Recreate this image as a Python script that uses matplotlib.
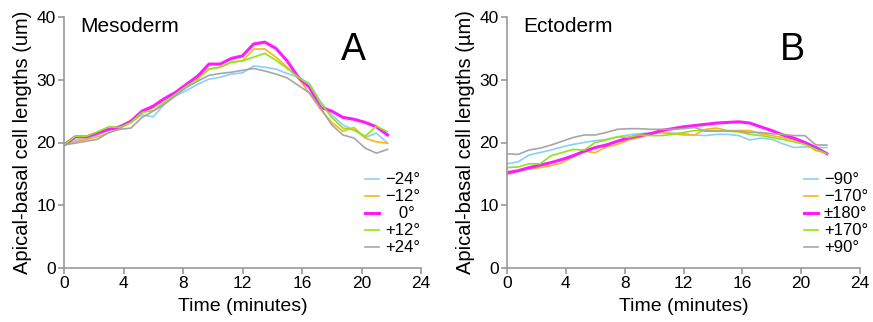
import matplotlib.pyplot as plt
import numpy as np

plt.rcParams['font.family'] = ['Liberation Sans', 'DejaVu Sans']

# time points every 45 s
time_min = np.arange(30) * 0.75

# Mesoderm (panel A)
meso_m24 = [19.6, 20.4, 20.5, 21.2, 22.0, 22.3, 23.2, 24.4, 24.1, 26.1, 27.4, 28.3, 29.3, 30.1, 30.4,
            30.9, 31.1, 32.2, 32.0, 31.7, 31.0, 30.4, 29.4, 26.5, 24.4, 22.8, 22.0, 20.8, 21.5, 19.9]
meso_m12 = [19.6, 20.1, 20.5, 20.9, 21.5, 22.3, 23.2, 24.7, 25.6, 26.8, 27.9, 29.1, 30.4, 31.7, 32.0,
            32.8, 33.0, 34.9, 34.9, 33.6, 32.0, 30.3, 27.8, 25.3, 23.2, 21.8, 22.4, 20.7, 20.1, 19.9]
meso_0 = [19.6, 20.9, 20.9, 21.5, 22.1, 22.5, 23.4, 25.0, 25.8, 27.0, 28.0, 29.3, 30.6, 32.5, 32.5,
          33.4, 33.8, 35.7, 36.0, 35.0, 33.0, 30.4, 28.8, 25.6, 25.0, 24.0, 23.7, 23.2, 22.5, 21.2]
meso_p12 = [19.6, 21.0, 21.0, 21.7, 22.5, 22.4, 23.2, 24.8, 25.1, 26.4, 27.7, 29.0, 30.1, 31.7, 32.0,
            32.8, 33.0, 33.6, 34.2, 33.1, 31.8, 30.4, 29.2, 26.3, 24.0, 22.3, 22.0, 21.0, 22.6, 21.7]
meso_p24 = [19.6, 19.9, 20.2, 20.5, 21.6, 22.1, 22.3, 24.0, 25.0, 26.1, 27.5, 28.8, 29.8, 30.7, 31.0,
            31.2, 31.5, 31.8, 31.4, 30.9, 30.3, 29.1, 27.9, 25.5, 22.8, 21.2, 20.7, 19.1, 18.3, 18.9]

# Ectoderm (panel B)
ecto_m90 = [16.6, 16.9, 18.0, 18.4, 18.8, 19.3, 19.7, 20.0, 20.3, 20.5, 20.9, 21.2, 21.4, 21.5, 21.6,
            21.5, 21.4, 21.2, 21.1, 21.3, 21.3, 21.1, 20.4, 20.7, 20.5, 19.8, 19.2, 19.3, 19.2, 19.2]
ecto_m170 = [14.9, 15.4, 15.8, 16.0, 16.3, 16.8, 17.7, 18.6, 18.4, 19.3, 19.7, 20.4, 20.8, 21.3, 21.6,
             21.4, 21.2, 21.2, 22.1, 22.3, 21.9, 21.9, 21.9, 21.4, 21.1, 20.8, 20.4, 19.8, 18.7, 18.4]
ecto_180 = [15.2, 15.5, 16.0, 16.4, 16.8, 17.3, 17.9, 18.6, 19.2, 19.6, 20.2, 20.7, 21.1, 21.4, 21.9,
            22.2, 22.5, 22.7, 22.9, 23.1, 23.2, 23.3, 23.1, 22.5, 21.9, 21.2, 20.7, 20.0, 19.2, 18.2]
ecto_p170 = [16.0, 16.1, 16.6, 16.6, 17.9, 18.4, 18.9, 18.8, 20.0, 20.4, 20.9, 20.8, 21.2, 21.1, 21.1,
             21.3, 21.6, 21.9, 21.9, 21.9, 21.8, 21.7, 21.3, 21.1, 20.8, 20.5, 20.1, 19.7, 18.9, 18.2]
ecto_p90 = [18.2, 18.1, 18.8, 19.1, 19.6, 20.2, 20.8, 21.2, 21.2, 21.6, 22.1, 22.2, 22.2, 22.1, 22.1,
            22.1, 22.2, 22.4, 21.8, 21.8, 21.8, 21.8, 21.6, 21.6, 21.4, 21.3, 21.1, 21.1, 19.6, 19.6]

meso_labels = ['\u221224°', '\u221212°', '   0°', '+12°', '+24°']
ecto_labels = ['\u221290°', '\u2212170°', '\u00b1180°', '+170°', '+90°']

colors = ['#8ccff7', '#ffb31a', '#ff1aff', '#8ee619', '#a6a6a6']
widths = [1.2, 1.2, 2.2, 1.2, 1.2]


def draw_panel(ax, series, labels, title, letter, ylabel, leg_x):
    for vals, lab, c, lw in zip(series, labels, colors, widths):
        ax.plot(time_min, vals, color=c, lw=lw, label=lab)
    ax.set_xlim(0, 24)
    ax.set_ylim(0, 40)
    ax.set_xticks(range(0, 25, 4))
    ax.set_yticks(range(0, 41, 10))
    for s in ['top', 'right']:
        ax.spines[s].set_visible(False)
    for s in ['left', 'bottom']:
        ax.spines[s].set_color('#999999')
        ax.spines[s].set_linewidth(1.2)
    ax.tick_params(colors='#999999', labelcolor='black', labelsize=12.5, length=4, width=1.2, pad=2)
    ax.set_xlabel('Time (minutes)', fontsize=14, labelpad=5)
    ax.set_ylabel(ylabel, fontsize=14.5, labelpad=3)
    ax.text(0.045, 0.94, title, transform=ax.transAxes, fontsize=15, va='baseline', ha='left')
    ax.text(0.81, 0.83, letter, transform=ax.transAxes, fontsize=27, va='baseline', ha='center')
    ax.legend(loc='lower left', bbox_to_anchor=(leg_x, 0.05), frameon=False, fontsize=12,
              handlelength=0.85, handletextpad=0.35, labelspacing=0.12, borderaxespad=0.0,
              borderpad=0.0)


fig = plt.figure(figsize=(8.73, 3.22), dpi=100)
ax1 = fig.add_axes([64 / 873, 54 / 322, 357 / 873, 251 / 322])
ax2 = fig.add_axes([507 / 873, 54 / 322, 353 / 873, 251 / 322])

draw_panel(ax1, [meso_m24, meso_m12, meso_0, meso_p12, meso_p24], meso_labels,
           'Mesoderm', 'A', 'Apical-basal cell lengths (um)', (365 - 64) / 357)
draw_panel(ax2, [ecto_m90, ecto_m170, ecto_180, ecto_p170, ecto_p90], ecto_labels,
           'Ectoderm', 'B', 'Apical-basal cell lengths (\u00b5m)', (804 - 507) / 353)

fig.savefig('out.png', dpi=100)
